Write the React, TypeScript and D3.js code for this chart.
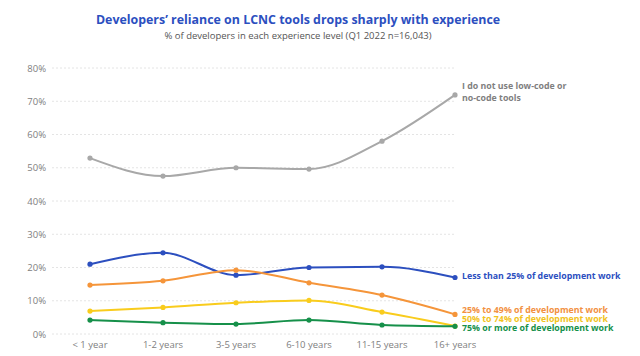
import React from "react";
import * as d3 from "d3";

const categories = ["< 1 year", "1-2 years", "3-5 years", "6-10 years", "11-15 years", "16+ years"];
const notUse = [52.9, 47.5, 50.0, 49.6, 58.0, 71.9];
const lessThan25 = [21.0, 24.4, 17.7, 20.0, 20.2, 17.0];
const from25to49 = [14.7, 16.0, 19.2, 15.4, 11.7, 5.9];
const from50to74 = [6.9, 8.0, 9.4, 10.1, 6.6, 2.4];
const over75 = [4.2, 3.4, 3.0, 4.2, 2.7, 2.3];
const yTicks = [0, 10, 20, 30, 40, 50, 60, 70, 80];

const seriesList = [
  { name: "notUse", values: notUse, color: "#a8a8a8", label: ["I do not use low-code or", "no-code tools"], labelColor: "#7f7f7f", ly: [89, 101] },
  { name: "lt25", values: lessThan25, color: "#2c4fbf", label: ["Less than 25% of development work"], labelColor: "#2c4fbf", ly: [279] },
  { name: "25-49", values: from25to49, color: "#f5953a", label: ["25% to 49% of development work"], labelColor: "#f29142", ly: [312.5] },
  { name: "50-74", values: from50to74, color: "#f9cc1d", label: ["50% to 74% of development work"], labelColor: "#f2c31c", ly: [321.5] },
  { name: "75+", values: over75, color: "#16904a", label: ["75% or more of development work"], labelColor: "#16904a", ly: [330.5] },
];

export default function App() {
  const W = 640, H = 356;
  const x = d3.scalePoint<string>().domain(categories).range([90, 455]);
  const y = d3.scaleLinear().domain([0, 80]).range([334, 68]);
  const line = d3.line<number>()
    .x((_, i) => x(categories[i]) as number)
    .y((d) => y(d))
    .curve(d3.curveMonotoneX);
  const font = "'Open Sans', Lato, sans-serif";
  return (
    <svg width={W} height={H} style={{ position: "absolute", left: 0, top: 0, background: "#fff" }} fontFamily={font}>
      <text x={298} y={24} textAnchor="middle" fontSize={12.4} fontWeight={700} fill="#2c4fbf">
        Developers’ reliance on LCNC tools drops sharply with experience
      </text>
      <text x={298} y={39} textAnchor="middle" fontSize={9.5} fill="#555">
        % of developers in each experience level (Q1 2022 n=16,043)
      </text>
      {yTicks.map((t) => (
        <g key={t}>
          <line x1={52} x2={455} y1={y(t)} y2={y(t)} stroke="#e4e4e4" strokeDasharray="2,2" strokeWidth={1} />
          <text x={46} y={y(t) + 3.5} textAnchor="end" fontSize={9.5} fill="#808080">{t}%</text>
        </g>
      ))}
      {categories.map((c) => (
        <text key={c} x={x(c)} y={348} textAnchor="middle" fontSize={9.5} fill="#808080">{c}</text>
      ))}
      {seriesList.map((s) => (
        <g key={s.name}>
          <path d={line(s.values) || ""} fill="none" stroke={s.color} strokeWidth={2} />
          {s.values.map((v, i) => (
            <circle key={i} cx={x(categories[i])} cy={y(v)} r={2.6} fill={s.color} />
          ))}
          {s.label.map((l, i) => (
            <text key={i} x={462} y={s.ly[i]} fontSize={8.8} fontWeight={700} fill={s.labelColor}>{l}</text>
          ))}
        </g>
      ))}
    </svg>
  );
}
